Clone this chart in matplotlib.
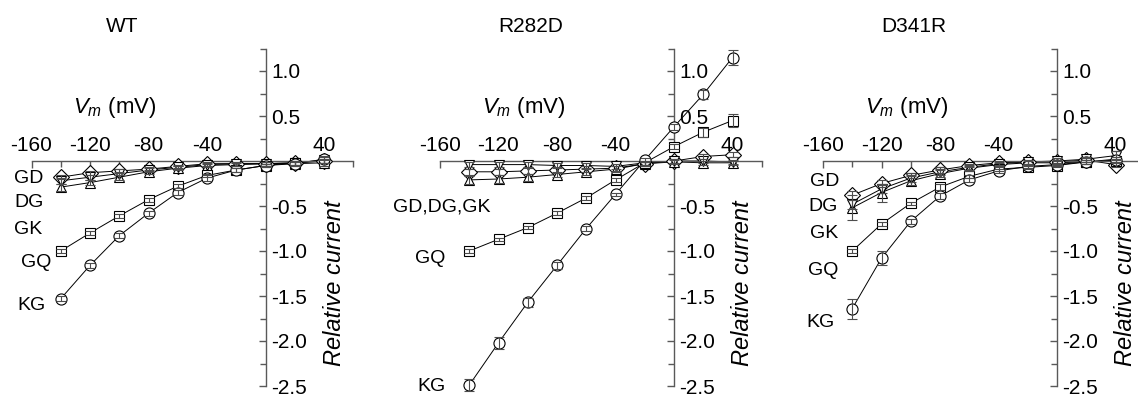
import matplotlib
matplotlib.use("Agg")
from matplotlib import pyplot as plt
from matplotlib.ticker import MultipleLocator, FormatStrFormatter

# -----------------------------------------------------------------------------
# DATA
# -----------------------------------------------------------------------------
vm = [-140, -120, -100, -80, -60, -40, -20, 0, 20, 40]

# WT
wt_kg = [-1.53, -1.16, -0.83, -0.58, -0.35, -0.19, -0.10, -0.05, -0.03, 0.02]
wt_kg_err = [0.03, 0.03, 0.03, 0.03, 0.03, 0.03, 0.02, 0.02, 0.02, 0.04]
wt_gq = [-1.00, -0.80, -0.61, -0.43, -0.28, -0.16, -0.10, -0.05, -0.02, 0.00]
wt_gq_err = [0.02, 0.02, 0.02, 0.02, 0.02, 0.02, 0.02, 0.02, 0.02, 0.02]
wt_gd = [-0.18, -0.13, -0.11, -0.09, -0.06, -0.03, -0.03, -0.03, -0.02, 0.00]
wt_gd_err = [0.02, 0.02, 0.02, 0.02, 0.02, 0.02, 0.02, 0.02, 0.02, 0.02]
wt_dg = [-0.29, -0.24, -0.18, -0.12, -0.08, -0.05, -0.04, -0.03, -0.03, -0.02]
wt_dg_err = [0.04, 0.03, 0.03, 0.02, 0.02, 0.02, 0.02, 0.02, 0.02, 0.03]
wt_gk = [-0.22, -0.18, -0.14, -0.10, -0.07, -0.04, -0.03, -0.03, -0.02, 0.01]
wt_gk_err = [0.03, 0.03, 0.02, 0.02, 0.02, 0.02, 0.02, 0.02, 0.02, 0.03]

# R282D
r_kg = [-2.49, -2.02, -1.57, -1.16, -0.75, -0.37, 0.01, 0.38, 0.74, 1.15]
r_kg_err = [0.07, 0.07, 0.05, 0.04, 0.03, 0.02, 0.02, 0.03, 0.05, 0.08]
r_gq = [-1.00, -0.87, -0.74, -0.58, -0.41, -0.21, -0.02, 0.16, 0.32, 0.45]
r_gq_err = [0.02, 0.02, 0.02, 0.02, 0.02, 0.02, 0.02, 0.03, 0.05, 0.07]
r_gd = [-0.12, -0.12, -0.11, -0.10, -0.09, -0.08, -0.03, 0.00, 0.05, 0.07]
r_gd_err = [0.03, 0.03, 0.03, 0.03, 0.03, 0.03, 0.02, 0.02, 0.03, 0.03]
r_dg = [-0.21, -0.20, -0.18, -0.15, -0.12, -0.09, -0.03, -0.01, -0.02, -0.02]
r_dg_err = [0.04, 0.04, 0.04, 0.03, 0.03, 0.03, 0.02, 0.02, 0.02, 0.02]
r_gk = [-0.04, -0.04, -0.04, -0.05, -0.05, -0.06, -0.02, 0.00, 0.00, -0.01]
r_gk_err = [0.03, 0.03, 0.03, 0.03, 0.03, 0.03, 0.02, 0.02, 0.02, 0.02]

# D341R
d_kg = [-1.64, -1.08, -0.67, -0.39, -0.21, -0.11, -0.06, -0.04, -0.01, 0.01]
d_kg_err = [0.11, 0.08, 0.03, 0.03, 0.02, 0.02, 0.02, 0.02, 0.02, 0.03]
d_gq = [-1.00, -0.70, -0.47, -0.29, -0.17, -0.09, -0.07, -0.05, -0.01, 0.00]
d_gq_err = [0.02, 0.02, 0.02, 0.03, 0.02, 0.02, 0.02, 0.02, 0.02, 0.02]
d_gd = [-0.38, -0.25, -0.16, -0.10, -0.05, -0.02, -0.01, -0.01, 0.01, -0.04]
d_gd_err = [0.05, 0.04, 0.03, 0.03, 0.02, 0.02, 0.02, 0.02, 0.02, 0.03]
d_dg = [-0.52, -0.35, -0.22, -0.14, -0.08, -0.04, -0.02, -0.02, -0.01, 0.02]
d_dg_err = [0.14, 0.10, 0.05, 0.04, 0.03, 0.02, 0.02, 0.02, 0.02, 0.03]
d_gk = [-0.48, -0.31, -0.19, -0.12, -0.07, -0.03, -0.01, 0.00, 0.02, 0.06]
d_gk_err = [0.05, 0.04, 0.04, 0.03, 0.03, 0.02, 0.02, 0.03, 0.03, 0.05]

panel_titles = ["WT", "R282D", "D341R"]
x_tick_labels = [-160, -120, -80, -40, 40]

# -----------------------------------------------------------------------------
# STYLE
# -----------------------------------------------------------------------------
plt.rcParams['font.family'] = ['Liberation Sans', 'DejaVu Sans']
plt.rcParams['axes.unicode_minus'] = False
plt.rcParams['mathtext.fontset'] = 'custom'
plt.rcParams['mathtext.it'] = 'Liberation Sans:italic'
plt.rcParams['mathtext.rm'] = 'Liberation Sans'

axis_gray = '0.35'
tick_fs = 15
lab_fs = 14

fig = plt.figure(figsize=(11.38, 3.96), dpi=100)

W, H = 1138.0, 396.0
ax_w = 321.75 / W
ax_h = 337.5 / H
ax_bottom = 10.0 / H
lefts = [31.5 / W, 440.0 / W, 823.0 / W]
axes = [fig.add_axes([l, ax_bottom, ax_w, ax_h]) for l in lefts]


def setup_axes(ax):
    ax.set_xlim(-160, 60)
    ax.set_ylim(-2.5, 1.25)
    ax.patch.set_visible(False)
    ax.spines['left'].set_visible(False)
    ax.spines['bottom'].set_visible(False)
    ax.spines['right'].set_position(('data', 0))
    ax.spines['top'].set_position(('data', 0))
    for s in ['right', 'top']:
        ax.spines[s].set_color(axis_gray)
        ax.spines[s].set_linewidth(1.0)
    ax.xaxis.set_ticks_position('top')
    ax.yaxis.set_ticks_position('right')
    ax.set_xticks(x_tick_labels)
    ax.xaxis.set_minor_locator(MultipleLocator(20))
    ax.yaxis.set_minor_locator(MultipleLocator(0.25))
    ax.yaxis.set_major_formatter(FormatStrFormatter('%.1f'))
    ax.set_yticks([-2.5, -2.0, -1.5, -1.0, -0.5, 0.5, 1.0])
    ax.tick_params(which='both', direction='in', color=axis_gray, width=1.0, labelsize=tick_fs)
    ax.tick_params(which='major', length=5)
    ax.tick_params(which='minor', length=4)
    ax.tick_params(axis='x', pad=4)
    ax.tick_params(axis='y', pad=4)


def draw_series(ax, y, err, marker, ms):
    ax.plot(vm, y, color='black', lw=0.7, zorder=2, clip_on=False)
    ax.plot(vm, y, ls='none', marker=marker, ms=ms, mfc='white', mec='black',
            mew=0.8, zorder=3, clip_on=False)
    eb = ax.errorbar(vm, y, yerr=err, fmt='none', ecolor='0.3', elinewidth=0.8,
                     capsize=3.5, capthick=0.8, zorder=4)
    for art in eb.get_children():
        art.set_clip_on(False)


panel_data = [
    [(wt_gd, wt_gd_err, 'D', 8), (wt_dg, wt_dg_err, '^', 7), (wt_gk, wt_gk_err, 'v', 7),
     (wt_gq, wt_gq_err, 's', 7), (wt_kg, wt_kg_err, 'o', 8)],
    [(r_gd, r_gd_err, 'D', 8), (r_dg, r_dg_err, '^', 7), (r_gk, r_gk_err, 'v', 7),
     (r_gq, r_gq_err, 's', 7), (r_kg, r_kg_err, 'o', 8)],
    [(d_gd, d_gd_err, 'D', 8), (d_dg, d_dg_err, '^', 7), (d_gk, d_gk_err, 'v', 7),
     (d_gq, d_gq_err, 's', 7), (d_kg, d_kg_err, 'o', 8)],
]

for ax, title, series in zip(axes, panel_titles, panel_data):
    setup_axes(ax)
    for y, err, m, ms in series:
        draw_series(ax, y, err, m, ms)
    ax.text(-98, 1.5, title, fontsize=15, ha='center', va='center', clip_on=False)
    ax.text(-103, 0.6, r'$V_m$ (mV)', fontsize=16, ha='center', va='center')
    ax.text(47, -1.36, 'Relative current', fontsize=17, style='italic',
            rotation=90, ha='center', va='center')

# series labels
axes[0].text(-162, -0.19, 'GD', fontsize=lab_fs, ha='center', va='center')
axes[0].text(-162, -0.46, 'DG', fontsize=lab_fs, ha='center', va='center')
axes[0].text(-162, -0.76, 'GK', fontsize=lab_fs, ha='center', va='center')
axes[0].text(-157, -1.13, 'GQ', fontsize=lab_fs, ha='center', va='center')
axes[0].text(-160, -1.61, 'KG', fontsize=lab_fs, ha='center', va='center')

axes[1].text(-159, -0.51, 'GD,DG,GK', fontsize=lab_fs, ha='center', va='center')
axes[1].text(-167, -1.08, 'GQ', fontsize=lab_fs, ha='center', va='center')
axes[1].text(-165.5, -2.51, 'KG', fontsize=lab_fs, ha='center', va='center')

axes[2].text(-159, -0.23, 'GD', fontsize=lab_fs, ha='center', va='center')
axes[2].text(-160, -0.51, 'DG', fontsize=lab_fs, ha='center', va='center')
axes[2].text(-159, -0.80, 'GK', fontsize=lab_fs, ha='center', va='center')
axes[2].text(-160, -1.22, 'GQ', fontsize=lab_fs, ha='center', va='center')
axes[2].text(-162, -1.79, 'KG', fontsize=lab_fs, ha='center', va='center')

fig.savefig('out.png', dpi=100)
